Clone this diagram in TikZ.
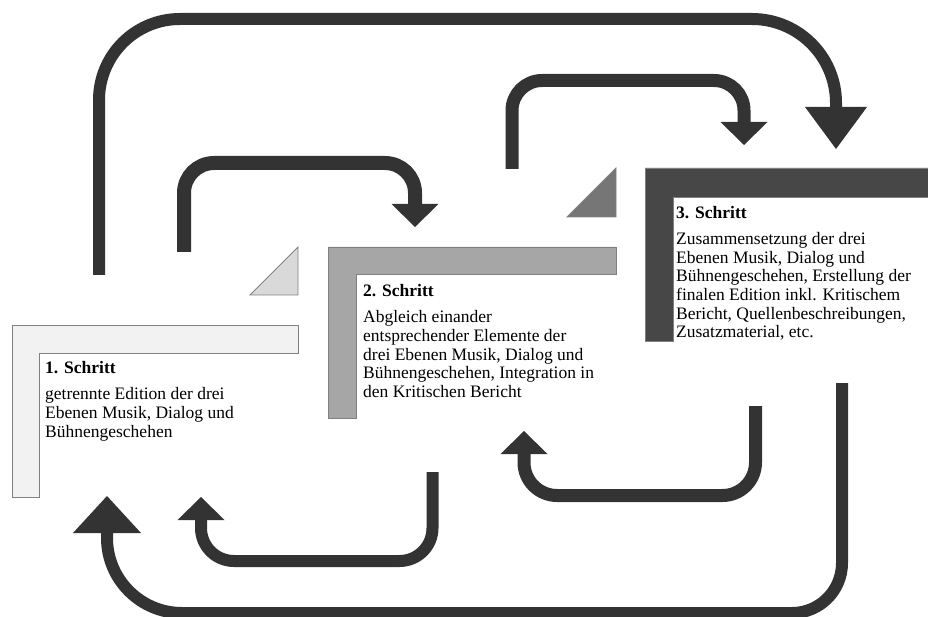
\documentclass[tikz,border=0pt]{standalone}
\usepackage{fontspec}
\setmainfont{Liberation Serif}
\usetikzlibrary{arrows.meta}
\definecolor{arr}{HTML}{333333}
\definecolor{edgegray}{HTML}{808080}
\definecolor{fillA}{HTML}{F2F2F2}
\definecolor{fillB}{HTML}{A6A6A6}
\definecolor{fillC}{HTML}{474747}
\definecolor{triA}{HTML}{D9D9D9}
\definecolor{triB}{HTML}{767676}
\begin{document}
\begin{tikzpicture}[x=1pt,y=-1pt,
  flow/.style={draw=arr, line cap=butt, line join=round},
  smalltip/.style={-{Triangle[length=23pt,width=47pt,line width=0pt]}},
  lbox/.style={draw=edgegray, line width=0.8pt, line join=miter},
  tri/.style={draw=edgegray, line width=0.8pt},
  steptext/.style={anchor=north west, inner sep=0pt, align=left,
    font=\fontsize{17.5}{18.7}\selectfont, text=black}]
\useasboundingbox (0,0) rectangle (928,617);

% L-shaped step panels
\draw[lbox, fill=fillA] (12,325) -- (298,325) -- (298,353) -- (39,353) -- (39,497) -- (12,497) -- cycle;
\draw[lbox, fill=fillB] (328,247) -- (616,247) -- (616,274) -- (356,274) -- (356,418) -- (328,418) -- cycle;
\draw[lbox, fill=fillC] (645,168) -- (935,168) -- (935,197) -- (673,197) -- (673,341) -- (645,341) -- cycle;

% corner triangles
\draw[tri, fill=triA] (250,295) -- (298,247) -- (298,295) -- cycle;
\draw[tri, fill=triB] (567,217) -- (616,168) -- (616,217) -- cycle;

% step texts
\node[steptext] (s1) at (45,361.5) {\textbf{1. Schritt}\\[7.3pt]getrennte Edition der drei\\Ebenen Musik, Dialog und\\Bühnengeschehen};
\node[steptext] (s2) at (363,284.5) {\textbf{2. Schritt}\\[7.3pt]Abgleich einander\\entsprechender Elemente der\\drei Ebenen Musik, Dialog und\\Bühnengeschehen, Integration in\\den Kritischen Bericht};
\node[steptext] (s3) at (676,206) {\textbf{3. Schritt}\\[7.3pt]Zusammensetzung der drei\\Ebenen Musik, Dialog und\\Bühnengeschehen, Erstellung der\\finalen Edition inkl. Kritischem\\Bericht, Quellenbeschreibungen,\\Zusatzmaterial, etc.};

% connector end points
\coordinate (a1s) at (184,252);  \coordinate (a1t) at (415,163);  \coordinate (a1e) at (415,227);
\coordinate (a2s) at (512,169);  \coordinate (a2t) at (744,80.5); \coordinate (a2e) at (744,145);
\coordinate (b1s) at (755.5,406);\coordinate (b1t) at (524,495.5);\coordinate (b1e) at (524,431);
\coordinate (b2s) at (432.5,472);\coordinate (b2t) at (201,561);  \coordinate (b2e) at (201,497);
\coordinate (tops) at (99,275);  \coordinate (topt) at (836,19);  \coordinate (tope) at (836,149);
\coordinate (bots) at (842,383); \coordinate (bott) at (107,613); \coordinate (bote) at (107,496);

% step 1 -> step 2
\draw[flow, line width=14pt, rounded corners=30pt, smalltip] (a1s) |- (a1t) -- (a1e);
% step 2 -> step 3
\draw[flow, line width=13pt, rounded corners=30pt, smalltip] (a2s) |- (a2t) -- (a2e);
% step 3 -> step 2
\draw[flow, line width=13pt, rounded corners=33pt, smalltip] (b1s) |- (b1t) -- (b1e);
% step 2 -> step 1
\draw[flow, line width=12pt, rounded corners=33pt, smalltip] (b2s) |- (b2t) -- (b2e);
% step 1 -> step 3 (top)
\draw[flow, line width=12pt, -{Triangle[length=42pt,width=62pt,line width=0pt]}]
  (tops) [rounded corners=81pt] -- (tops |- topt) [rounded corners=84pt] -- (topt) -- (tope);
% step 3 -> step 1 (bottom)
\draw[flow, line width=12pt, -{Triangle[length=37pt,width=68pt,line width=0pt]}]
  (bots) [rounded corners=50pt] -- (bots |- bott) [rounded corners=75pt] -- (bott) -- (bote);
\end{tikzpicture}
\end{document}
